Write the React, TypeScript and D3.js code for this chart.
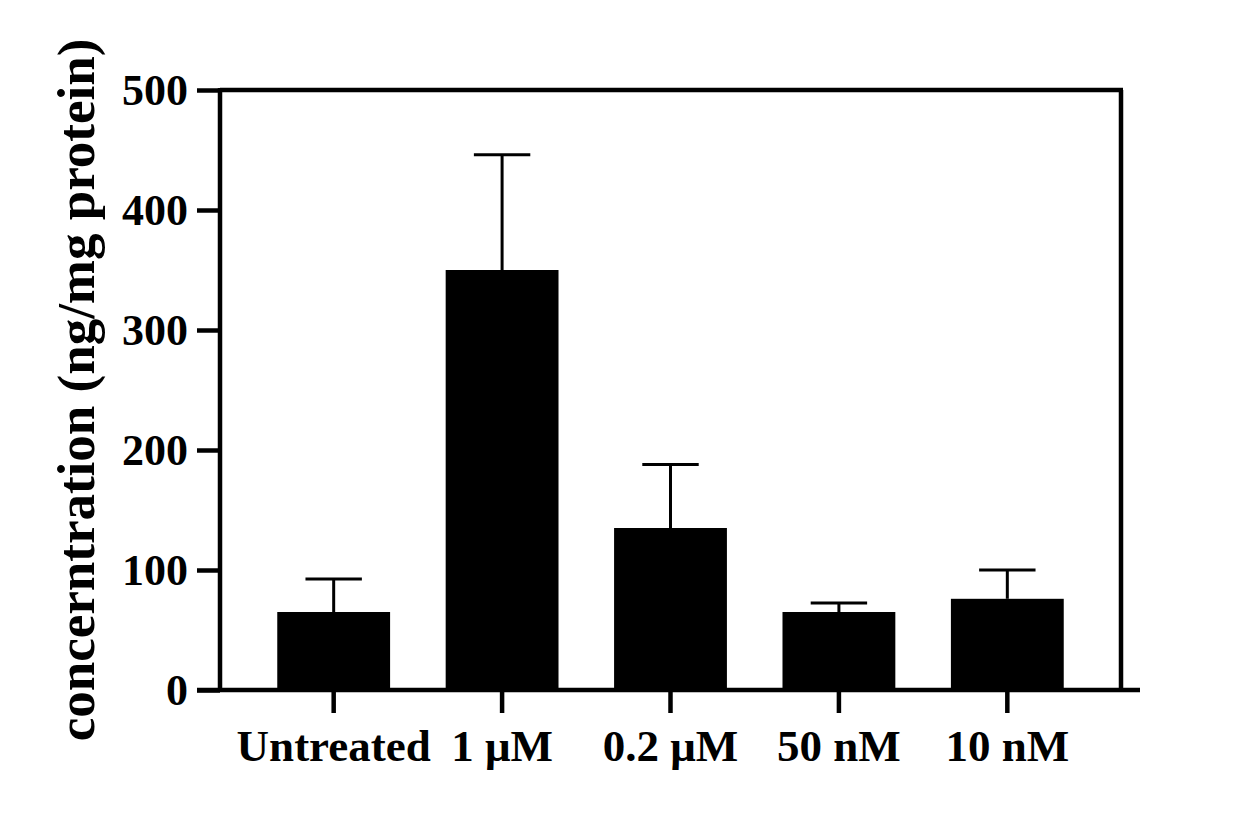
import React, { useEffect, useRef } from 'react';
import * as d3 from 'd3';

const categories = ['Untreated', '1 \u03bcM', '0.2 \u03bcM', '50 nM', '10 nM'];
const means = [65, 350, 135, 65, 76];
const errors = [27.5, 96, 53, 7.5, 24];
const yTicks = [0, 100, 200, 300, 400, 500];
const yLabel = 'concerntration (ng/mg protein)';

export default function App() {
  const ref = useRef<SVGSVGElement>(null);

  useEffect(() => {
    if (!ref.current) return;
    const svg = d3.select(ref.current);
    svg.selectAll('*').remove();

    const font = '"Liberation Serif", "Times New Roman", serif';

    const y = d3.scaleLinear().domain([0, 500]).range([690, 90]);
    const x = d3
      .scaleBand()
      .domain(categories)
      .range([220, 1121])
      .paddingInner(0.33)
      .paddingOuter(0.34);

    const g = svg.append('g');

    // bars
    g.selectAll('rect.bar')
      .data(means)
      .enter()
      .append('rect')
      .attr('class', 'bar')
      .attr('x', (d, i) => x(categories[i])!)
      .attr('y', (d) => y(d))
      .attr('width', x.bandwidth())
      .attr('height', (d) => y(0) - y(d))
      .attr('fill', '#000');

    // error bars (upper only)
    const cx = (i: number) => x(categories[i])! + x.bandwidth() / 2;
    const capHalf = x.bandwidth() * 0.25;
    means.forEach((m, i) => {
      g.append('line')
        .attr('x1', cx(i))
        .attr('x2', cx(i))
        .attr('y1', y(m))
        .attr('y2', y(m + errors[i]))
        .attr('stroke', '#000')
        .attr('stroke-width', 3);
      g.append('line')
        .attr('x1', cx(i) - capHalf)
        .attr('x2', cx(i) + capHalf)
        .attr('y1', y(m + errors[i]))
        .attr('y2', y(m + errors[i]))
        .attr('stroke', '#000')
        .attr('stroke-width', 3);
    });

    // frame: top and right
    g.append('line')
      .attr('x1', 220)
      .attr('x2', 1123)
      .attr('y1', y(500))
      .attr('y2', y(500))
      .attr('stroke', '#000')
      .attr('stroke-width', 4.5);
    g.append('line')
      .attr('x1', 1121)
      .attr('x2', 1121)
      .attr('y1', y(500))
      .attr('y2', y(0))
      .attr('stroke', '#000')
      .attr('stroke-width', 4.5);

    // y axis
    const yAxis = g
      .append('g')
      .attr('transform', 'translate(220,0)')
      .call(d3.axisLeft(y).tickValues(yTicks).tickSize(23).tickPadding(9));
    yAxis.select('.domain').attr('stroke-width', 4.5).attr('d', `M0,${y(500) - 2}V${y(0) + 2}`);
    yAxis.selectAll('.tick line').attr('stroke-width', 4.5);
    yAxis
      .selectAll('.tick text')
      .attr('font-family', font)
      .attr('font-weight', 'bold')
      .attr('font-size', 44)
      .attr('fill', '#000');

    // x axis
    const xAxis = g
      .append('g')
      .attr('transform', `translate(0,${y(0)})`)
      .call(d3.axisBottom(x).tickSize(23).tickPadding(16));
    xAxis.select('.domain').attr('stroke-width', 4.5).attr('d', 'M197,0H1140');
    xAxis.selectAll('.tick line').attr('stroke-width', 4.5);
    xAxis
      .selectAll('.tick text')
      .attr('font-family', font)
      .attr('font-weight', 'bold')
      .attr('font-size', 45)
      .attr('fill', '#000');

    // y label
    svg
      .append('text')
      .attr('transform', `translate(94,${(y(0) + y(500)) / 2}) rotate(-90)`)
      .attr('text-anchor', 'middle')
      .attr('font-family', font)
      .attr('font-weight', 'bold')
      .attr('font-size', 53)
      .attr('fill', '#000')
      .text(yLabel);
  }, []);

  return (
    <svg
      ref={ref}
      width={1260}
      height={829}
      style={{ position: 'absolute', left: 0, top: 0, background: '#fff' }}
    />
  );
}
